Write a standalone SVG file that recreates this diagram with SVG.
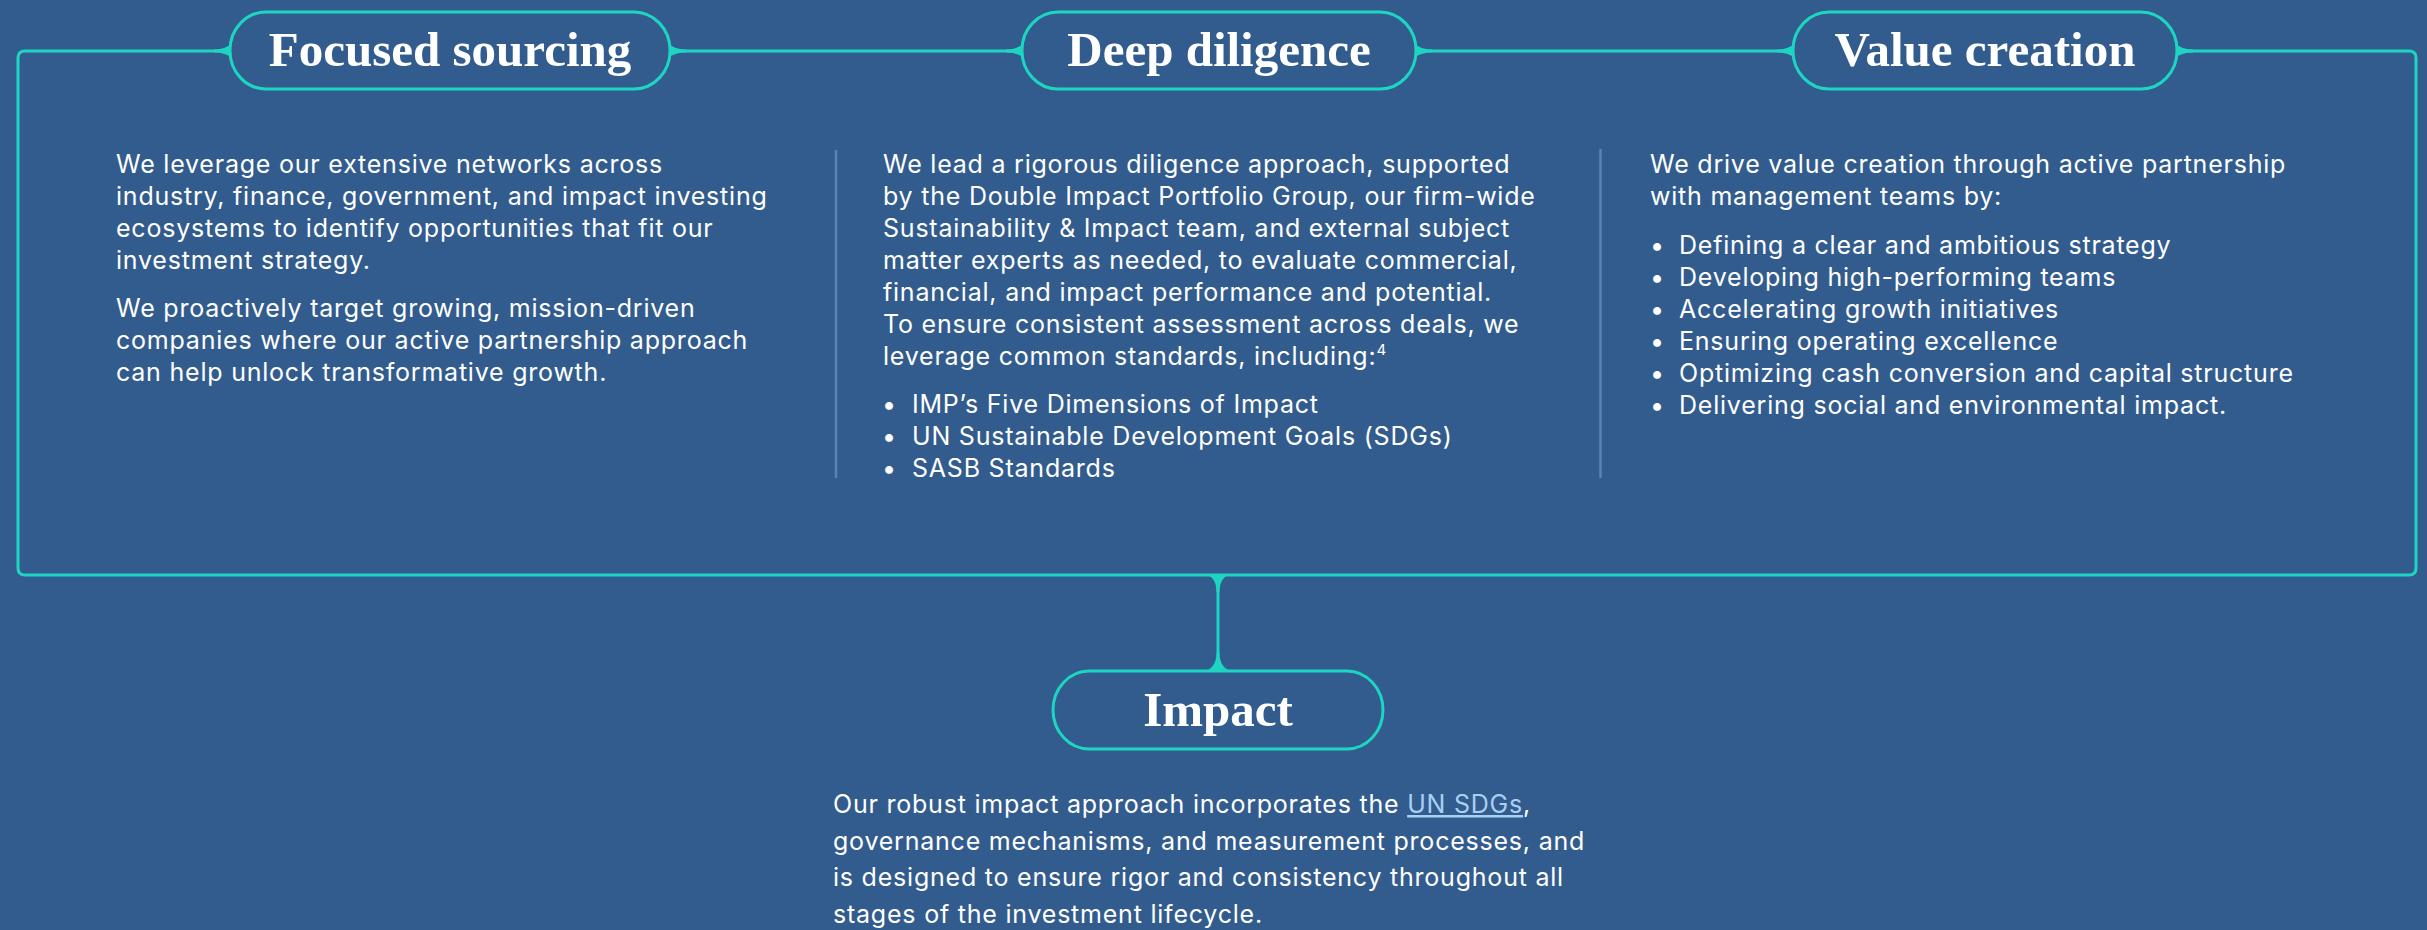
<svg xmlns="http://www.w3.org/2000/svg" width="2427" height="930" viewBox="0 0 2427 930">
<defs>
<style>
.bg{fill:#325c8e}
.ln{fill:none;stroke:#1dd5c0;stroke-width:3}
.pill{fill:#325c8e;stroke:#1dd5c0;stroke-width:3}
.fl{fill:#1dd5c0}
.dv{stroke:#5a82b4;stroke-width:2.5}
.ttl{font-family:"Liberation Serif","Times New Roman",serif;font-weight:bold;font-size:49px;fill:#ffffff;text-anchor:middle}
.tx{font-family:Inter,"Liberation Sans",sans-serif;font-size:25px;letter-spacing:0.78px;fill:#ffffff}
.bu{text-anchor:middle;letter-spacing:0}
.lk{fill:#a9cff2;text-decoration:underline}
</style>
</defs>
<rect class="bg" x="0" y="0" width="2427" height="930"/>

<g id="connectors">
<path class="ln" d="M230,51 H25 Q18,51 18,58 V568 Q18,575 25,575 H2409 Q2416,575 2416,568 V58 Q2416,51 2409,51 H2177"/>
<path class="ln" d="M670,51 H1022"/>
<path class="ln" d="M1416,51 H1793"/>
<path class="ln" d="M1218,575 V671"/>
<path class="fl" d="M214,49.5 Q226,49.5 231.5,43 V58 Q226,52.5 214,52.5 Z"/>
<path class="fl" d="M686,49.5 Q674,49.5 668.5,43 V58 Q674,52.5 686,52.5 Z"/>
<path class="fl" d="M1006,49.5 Q1018,49.5 1023.5,43 V58 Q1018,52.5 1006,52.5 Z"/>
<path class="fl" d="M1432,49.5 Q1420,49.5 1414.5,43 V58 Q1420,52.5 1432,52.5 Z"/>
<path class="fl" d="M1777,49.5 Q1789,49.5 1794.5,43 V58 Q1789,52.5 1777,52.5 Z"/>
<path class="fl" d="M2193,49.5 Q2181,49.5 2175.5,43 V58 Q2181,52.5 2193,52.5 Z"/>
<path class="fl" d="M1205,574 Q1216.5,577 1216.5,592 H1219.5 Q1219.5,577 1231,574 Z"/>
<path class="fl" d="M1202,672 Q1216.5,669 1216.5,653 H1219.5 Q1219.5,669 1234,672 Z"/>
</g>

<g id="node-focused-sourcing">
<rect class="pill" x="230" y="12" width="440" height="77" rx="36" ry="38"/>
<text class="ttl" x="450" y="66">Focused sourcing</text>
</g>
<g id="node-deep-diligence">
<rect class="pill" x="1022" y="12" width="394" height="77" rx="36" ry="38"/>
<text class="ttl" x="1219" y="66">Deep diligence</text>
</g>
<g id="node-value-creation">
<rect class="pill" x="1793" y="12" width="384" height="77" rx="36" ry="38"/>
<text class="ttl" x="1985" y="66">Value creation</text>
</g>
<g id="node-impact">
<rect class="pill" x="1053" y="671" width="330" height="78" rx="36" ry="39"/>
<text class="ttl" x="1218" y="726">Impact</text>
</g>

<g id="dividers">
<line class="dv" x1="836" y1="150" x2="836" y2="478"/>
<line class="dv" x1="1600.5" y1="149" x2="1600.5" y2="478"/>
</g>

<g id="text-focused-sourcing" class="tx">
<text x="116" y="173">We leverage our extensive networks across</text>
<text x="116" y="205">industry, finance, government, and impact investing</text>
<text x="116" y="237">ecosystems to identify opportunities that fit our</text>
<text x="116" y="269">investment strategy.</text>
<text x="116" y="317">We proactively target growing, mission-driven</text>
<text x="116" y="349">companies where our active partnership approach</text>
<text x="116" y="381">can help unlock transformative growth.</text>
</g>

<g id="text-deep-diligence" class="tx">
<text x="883" y="173">We lead a rigorous diligence approach, supported</text>
<text x="883" y="205">by the Double Impact Portfolio Group, our firm-wide</text>
<text x="883" y="237">Sustainability &amp; Impact team, and external subject</text>
<text x="883" y="269">matter experts as needed, to evaluate commercial,</text>
<text x="883" y="301">financial, and impact performance and potential.</text>
<text x="883" y="333">To ensure consistent assessment across deals, we</text>
<text x="883" y="365">leverage common standards, including:<tspan font-size="15" dy="-10" letter-spacing="0">4</tspan></text>
<text class="bu" x="889" y="413">•</text><text x="912" y="413">IMP’s Five Dimensions of Impact</text>
<text class="bu" x="889" y="445">•</text><text x="912" y="445">UN Sustainable Development Goals (SDGs)</text>
<text class="bu" x="889" y="477">•</text><text x="912" y="477">SASB Standards</text>
</g>

<g id="text-value-creation" class="tx">
<text x="1650" y="173">We drive value creation through active partnership</text>
<text x="1650" y="205">with management teams by:</text>
<text class="bu" x="1657" y="254">•</text><text x="1679" y="254">Defining a clear and ambitious strategy</text>
<text class="bu" x="1657" y="286">•</text><text x="1679" y="286">Developing high-performing teams</text>
<text class="bu" x="1657" y="318">•</text><text x="1679" y="318">Accelerating growth initiatives</text>
<text class="bu" x="1657" y="350">•</text><text x="1679" y="350">Ensuring operating excellence</text>
<text class="bu" x="1657" y="382">•</text><text x="1679" y="382">Optimizing cash conversion and capital structure</text>
<text class="bu" x="1657" y="414">•</text><text x="1679" y="414">Delivering social and environmental impact.</text>
</g>

<g id="text-impact" class="tx">
<text x="833" y="813">Our robust impact approach incorporates the <tspan class="lk">UN SDGs</tspan>,</text>
<text x="833" y="850">governance mechanisms, and measurement processes, and</text>
<text x="833" y="886">is designed to ensure rigor and consistency throughout all</text>
<text x="833" y="923">stages of the investment lifecycle.</text>
</g>
</svg>
